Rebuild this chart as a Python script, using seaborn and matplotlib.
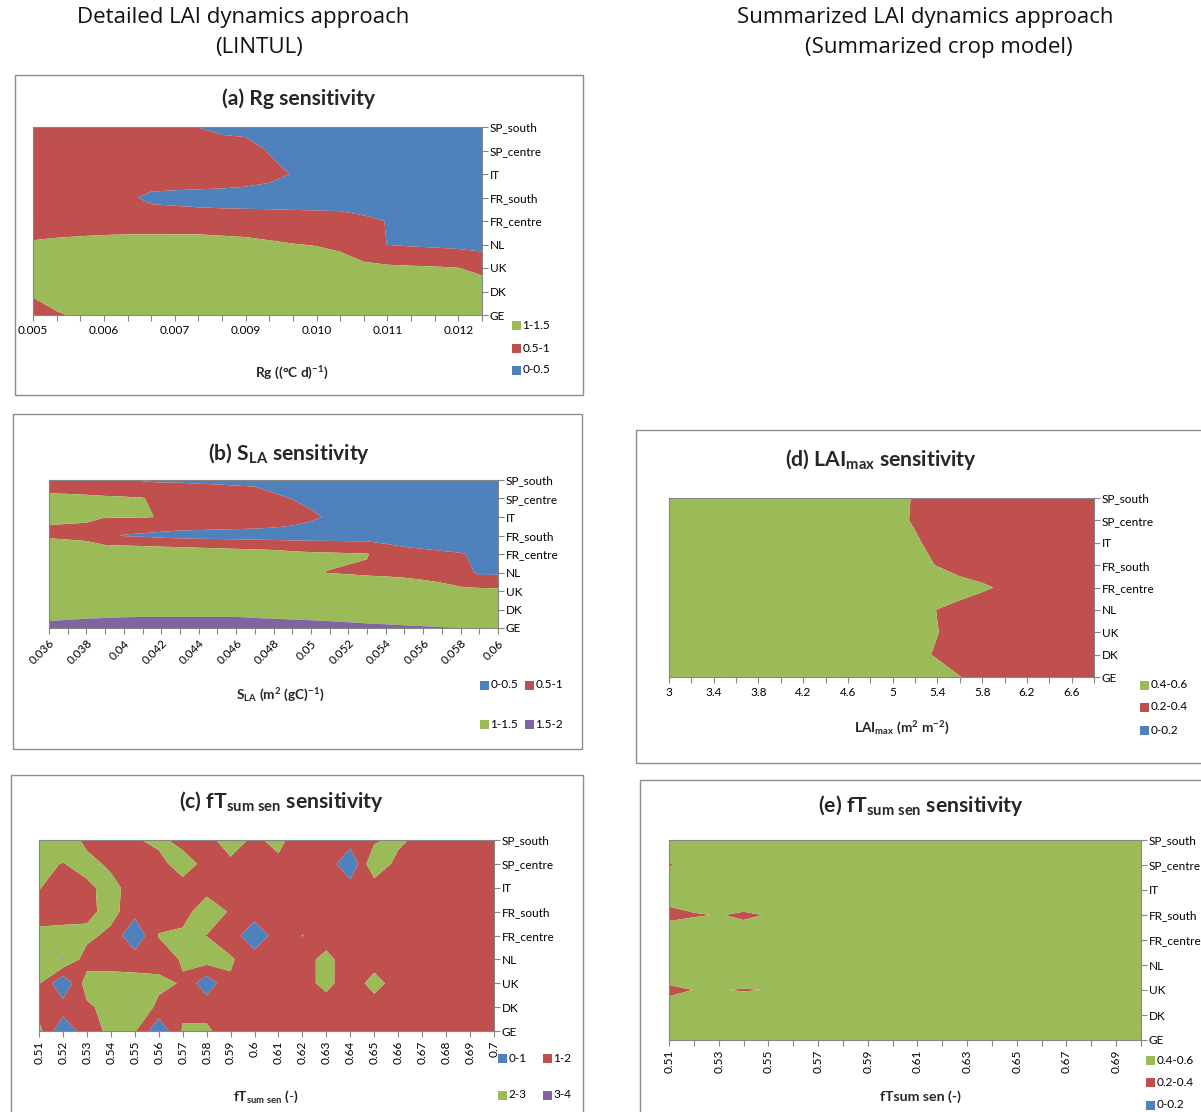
import numpy as np
import matplotlib
matplotlib.use("Agg")
import matplotlib.pyplot as plt
from matplotlib.patches import Rectangle
import seaborn as sns

# ---------------- data ----------------
regions = ["GE", "DK", "UK", "NL", "FR_centre", "FR_south", "IT", "SP_centre", "SP_south"]

# (a) Rg sensitivity  (rows GE -> SP_south)
rg_x = [0.005, 0.0054, 0.0058, 0.0062, 0.0066, 0.0070, 0.0074, 0.0078, 0.0082, 0.0086,
        0.0090, 0.0094, 0.0098, 0.0102, 0.0106, 0.0110, 0.0114, 0.0118, 0.0122, 0.0126]
rg_grid = [
    [0.85, 0.96, 1.06, 1.15, 1.20, 1.20, 1.21, 1.22, 1.22, 1.22, 1.21, 1.20, 1.20, 1.20, 1.19, 1.19, 1.18, 1.18, 1.18, 1.17],
    [1.053, 1.20, 1.25, 1.30, 1.30, 1.31, 1.31, 1.31, 1.30, 1.30, 1.30, 1.29, 1.29, 1.28, 1.28, 1.27, 1.26, 1.25, 1.24, 1.22],
    [1.30, 1.30, 1.32, 1.33, 1.33, 1.33, 1.33, 1.33, 1.32, 1.32, 1.31, 1.30, 1.27, 1.22, 1.09, 1.083, 1.06, 1.04, 1.006, 0.90],
    [1.044, 1.08, 1.12, 1.17, 1.21, 1.24, 1.21, 1.22, 1.18, 1.14, 1.066, 1.013, 0.98, 0.90, 0.75, 0.49, 0.45, 0.42, 0.38, 0.33],
    [0.80, 0.80, 0.78, 0.75, 0.72, 0.68, 0.72, 0.71, 0.70, 0.695, 0.70, 0.68, 0.66, 0.645, 0.567, 0.49, 0.40, 0.38, 0.36, 0.35],
    [0.70, 0.70, 0.68, 0.62, 0.55, 0.43, 0.38, 0.35, 0.33, 0.32, 0.30, 0.30, 0.30, 0.30, 0.29, 0.29, 0.28, 0.28, 0.27, 0.27],
    [0.80, 0.80, 0.80, 0.78, 0.76, 0.71, 0.77, 0.78, 0.77, 0.71, 0.62, 0.48, 0.35, 0.33, 0.32, 0.30, 0.30, 0.29, 0.29, 0.28],
    [0.82, 0.82, 0.82, 0.82, 0.82, 0.82, 0.82, 0.82, 0.70, 0.70, 0.47, 0.38, 0.30, 0.30, 0.29, 0.29, 0.28, 0.28, 0.27, 0.27],
    [0.75, 0.75, 0.74, 0.72, 0.70, 0.66, 0.60, 0.49, 0.40, 0.35, 0.30, 0.30, 0.30, 0.29, 0.29, 0.28, 0.28, 0.27, 0.27, 0.26],
]
rg_levels = [0, 0.5, 1.0, 1.5]

# (b) SLA sensitivity
sla_x = [0.036, 0.037, 0.038, 0.039, 0.040, 0.041, 0.042, 0.043, 0.044, 0.045, 0.046, 0.047, 0.048,
         0.049, 0.050, 0.051, 0.052, 0.053, 0.054, 0.055, 0.056, 0.057, 0.058, 0.059, 0.060]
sla_grid = [
    [1.62, 1.66, 1.70, 1.74, 1.776, 1.80, 1.80, 1.80, 1.80, 1.80, 1.80, 1.74, 1.70, 1.67, 1.645, 1.617, 1.59, 1.567, 1.55, 1.535, 1.522, 1.51, 1.505, 1.45, 1.42],
    [1.30, 1.30, 1.30, 1.30, 1.30, 1.30, 1.30, 1.30, 1.30, 1.30, 1.30, 1.30, 1.30, 1.30, 1.30, 1.30, 1.30, 1.30, 1.30, 1.30, 1.30, 1.30, 1.30, 1.29, 1.29],
    [1.30, 1.30, 1.30, 1.30, 1.30, 1.30, 1.30, 1.30, 1.30, 1.30, 1.30, 1.30, 1.30, 1.30, 1.30, 1.30, 1.28, 1.25, 1.22, 1.18, 1.12, 1.08, 1.075, 1.12, 1.094],
    [1.25, 1.25, 1.26, 1.27, 1.28, 1.28, 1.27, 1.26, 1.25, 1.23, 1.20, 1.17, 1.10, 1.05, 1.02, 0.99, 0.97, 0.95, 0.94, 0.93, 0.92, 0.90, 0.75, 0.40, 0.42],
    [1.397, 1.355, 1.35, 1.384, 1.45, 1.43, 1.41, 1.39, 1.35, 1.31, 1.27, 1.237, 1.20, 1.13, 1.08, 1.06, 1.04, 1.02, 0.806, 0.653, 0.597, 0.55, 0.519, 0.45, 0.42],
    [0.93, 0.90, 0.85, 0.60, 0.47, 0.43, 0.38, 0.333, 0.32, 0.31, 0.30, 0.29, 0.278, 0.27, 0.27, 0.27, 0.26, 0.26, 0.25, 0.25, 0.25, 0.25, 0.25, 0.25, 0.25],
    [1.053, 1.059, 1.067, 1.01, 1.02, 1.03, 0.98, 0.95, 0.93, 0.90, 0.88, 0.85, 0.80, 0.70, 0.57, 0.45, 0.35, 0.30, 0.30, 0.30, 0.29, 0.29, 0.28, 0.28, 0.28],
    [1.097, 1.083, 1.07, 1.057, 1.05, 1.03, 0.80, 0.85, 0.78, 0.75, 0.73, 0.77, 0.586, 0.49, 0.40, 0.35, 0.30, 0.30, 0.30, 0.29, 0.29, 0.29, 0.28, 0.28, 0.28],
    [0.75, 0.75, 0.72, 0.65, 0.55, 0.46, 0.45, 0.44, 0.43, 0.42, 0.40, 0.35, 0.30, 0.30, 0.30, 0.29, 0.29, 0.28, 0.28, 0.28, 0.27, 0.27, 0.27, 0.26, 0.26],
]
sla_levels = [0, 0.5, 1.0, 1.5, 2.0]

# (c) fTsum sen sensitivity (LINTUL)
fts_x = [0.51, 0.52, 0.53, 0.54, 0.55, 0.56, 0.57, 0.58, 0.59, 0.60,
         0.61, 0.62, 0.63, 0.64, 0.65, 0.66, 0.67, 0.68, 0.69, 0.70]
fts_grid = [
    [2.30, 0.20, 1.60, 2.20, 2.10, 0.20, 2.10, 2.15, 1.50, 1.45, 1.50, 1.50, 1.50, 1.50, 1.50, 1.50, 1.50, 1.50, 1.50, 1.50],
    [1.50, 1.50, 1.80, 2.40, 3.02, 1.70, 1.80, 1.70, 1.50, 1.50, 1.50, 1.50, 1.50, 1.50, 1.50, 1.50, 1.50, 1.50, 1.50, 1.50],
    [2.10, 0.05, 2.50, 2.50, 2.40, 2.30, 1.90, 0.30, 1.90, 1.50, 1.50, 1.62, 2.30, 1.40, 2.40, 1.50, 1.50, 1.50, 1.50, 1.50],
    [2.40, 3.05, 1.50, 1.50, 1.50, 1.50, 2.10, 2.50, 2.10, 1.50, 1.50, 1.62, 2.30, 1.40, 1.50, 1.50, 1.50, 1.50, 1.50, 1.50],
    [2.30, 2.40, 2.30, 1.70, 0.20, 2.05, 2.20, 1.98, 1.50, 0.30, 1.50, 2.02, 1.50, 1.50, 1.50, 1.50, 1.50, 1.50, 1.50, 1.50],
    [1.50, 1.50, 1.70, 2.40, 1.30, 1.50, 1.60, 2.60, 1.90, 1.50, 1.50, 1.50, 1.50, 1.50, 1.50, 1.50, 1.50, 1.50, 1.50, 1.50],
    [2.05, 1.50, 1.70, 2.50, 1.30, 1.50, 1.50, 1.65, 1.50, 1.50, 1.50, 1.50, 1.50, 1.50, 1.37, 1.50, 1.50, 1.50, 1.50, 1.50],
    [2.30, 1.95, 2.50, 1.70, 1.50, 1.60, 2.60, 1.60, 1.87, 1.50, 1.84, 1.50, 1.70, 0.05, 2.95, 1.59, 1.55, 1.50, 1.50, 1.50],
    [2.40, 3.02, 1.60, 1.50, 1.87, 2.30, 1.55, 1.80, 2.30, 1.87, 2.20, 1.53, 1.50, 1.50, 1.80, 2.30, 1.55, 1.50, 1.50, 1.50],
]
fts_levels = [0, 1, 2, 3, 4]

# (d) LAImax sensitivity (summarized model)
lai_x = [3.0, 3.2, 3.4, 3.6, 3.8, 4.0, 4.2, 4.4, 4.6, 4.8,
         5.0, 5.2, 5.4, 5.6, 5.8, 6.0, 6.2, 6.4, 6.6, 6.8]
lai_grid = [
    [0.59, 0.575, 0.56, 0.55, 0.53, 0.52, 0.50, 0.49, 0.475, 0.46, 0.445, 0.43, 0.416, 0.401, 0.385, 0.37, 0.355, 0.34, 0.325, 0.31],
    [0.575, 0.56, 0.55, 0.53, 0.52, 0.50, 0.49, 0.47, 0.455, 0.44, 0.425, 0.41, 0.396, 0.38, 0.365, 0.35, 0.335, 0.32, 0.305, 0.29],
    [0.58, 0.57, 0.55, 0.54, 0.52, 0.51, 0.49, 0.48, 0.46, 0.445, 0.43, 0.416, 0.401, 0.386, 0.37, 0.355, 0.34, 0.325, 0.31, 0.295],
    [0.58, 0.57, 0.55, 0.54, 0.52, 0.51, 0.49, 0.48, 0.46, 0.445, 0.43, 0.415, 0.399, 0.385, 0.37, 0.355, 0.34, 0.325, 0.31, 0.295],
    [0.59, 0.58, 0.56, 0.55, 0.54, 0.52, 0.51, 0.50, 0.49, 0.47, 0.46, 0.45, 0.435, 0.42, 0.408, 0.392, 0.38, 0.365, 0.35, 0.34],
    [0.58, 0.57, 0.55, 0.54, 0.52, 0.51, 0.49, 0.48, 0.46, 0.445, 0.43, 0.414, 0.398, 0.38, 0.37, 0.35, 0.34, 0.32, 0.31, 0.29],
    [0.57, 0.56, 0.54, 0.53, 0.51, 0.50, 0.48, 0.47, 0.45, 0.44, 0.42, 0.405, 0.388, 0.37, 0.36, 0.34, 0.33, 0.31, 0.30, 0.28],
    [0.56, 0.55, 0.53, 0.52, 0.50, 0.49, 0.47, 0.46, 0.44, 0.43, 0.411, 0.396, 0.38, 0.37, 0.35, 0.34, 0.32, 0.31, 0.29, 0.28],
    [0.56, 0.55, 0.53, 0.52, 0.50, 0.49, 0.47, 0.46, 0.44, 0.43, 0.412, 0.397, 0.38, 0.37, 0.35, 0.34, 0.32, 0.31, 0.29, 0.28],
]
lai_levels = [0, 0.2, 0.4, 0.6]

# (e) fTsum sen sensitivity (summarized model)
fts2_x = [0.51, 0.52, 0.53, 0.54, 0.55, 0.56, 0.57, 0.58, 0.59, 0.60,
          0.61, 0.62, 0.63, 0.64, 0.65, 0.66, 0.67, 0.68, 0.69, 0.70]
fts2_grid = [
    [0.47, 0.48, 0.49, 0.50, 0.50, 0.51, 0.51, 0.52, 0.52, 0.52, 0.53, 0.53, 0.53, 0.54, 0.54, 0.54, 0.54, 0.55, 0.55, 0.55],
    [0.46, 0.47, 0.45, 0.45, 0.46, 0.48, 0.49, 0.50, 0.50, 0.51, 0.51, 0.52, 0.52, 0.52, 0.53, 0.53, 0.53, 0.54, 0.54, 0.54],
    [0.38, 0.401, 0.402, 0.397, 0.401, 0.42, 0.44, 0.46, 0.47, 0.48, 0.49, 0.50, 0.50, 0.51, 0.51, 0.52, 0.52, 0.52, 0.53, 0.53],
    [0.48, 0.47, 0.46, 0.45, 0.46, 0.47, 0.48, 0.49, 0.50, 0.50, 0.51, 0.51, 0.52, 0.52, 0.52, 0.53, 0.53, 0.53, 0.54, 0.54],
    [0.527, 0.50, 0.47, 0.46, 0.47, 0.48, 0.49, 0.50, 0.50, 0.51, 0.51, 0.52, 0.52, 0.52, 0.53, 0.53, 0.53, 0.54, 0.54, 0.54],
    [0.36, 0.39, 0.405, 0.385, 0.405, 0.43, 0.45, 0.47, 0.48, 0.49, 0.50, 0.50, 0.51, 0.51, 0.52, 0.52, 0.52, 0.53, 0.53, 0.53],
    [0.48, 0.50, 0.49, 0.50, 0.49, 0.50, 0.50, 0.51, 0.51, 0.52, 0.52, 0.52, 0.53, 0.53, 0.53, 0.54, 0.54, 0.54, 0.55, 0.55],
    [0.395, 0.42, 0.46, 0.48, 0.49, 0.50, 0.50, 0.51, 0.51, 0.52, 0.52, 0.53, 0.53, 0.53, 0.54, 0.54, 0.54, 0.55, 0.55, 0.55],
    [0.44, 0.45, 0.46, 0.47, 0.48, 0.49, 0.50, 0.50, 0.51, 0.51, 0.52, 0.52, 0.53, 0.53, 0.53, 0.54, 0.54, 0.54, 0.55, 0.55],
]
fts2_levels = [0, 0.2, 0.4, 0.6]

# ---------------- style ----------------
BLUE, RED, GREEN, PURPLE = "#4F81BD", "#C0504D", "#9BBB59", "#8064A2"
FRAME = "#8c8c8c"
AXC = "#868686"
TXT = "#000000"

sns.set_theme(style="white")
plt.rcParams["font.family"] = ["Lato", "DejaVu Sans"]
plt.rcParams["mathtext.fontset"] = "custom"
plt.rcParams["mathtext.rm"] = "Lato"
plt.rcParams["mathtext.it"] = "Lato:italic"
plt.rcParams["mathtext.bf"] = "Lato:bold"

W, H = 1201, 1112
fig = plt.figure(figsize=(W / 100, H / 100), dpi=100)
fig.patch.set_facecolor("white")

TICK_FS = 8.5
TITLE_FS = 15.2
XLAB_FS = 9.8


def fx(x):
    return x / W


def fy(y):
    return 1 - y / H


def add_frame(x0, y0, x1, y1):
    fig.add_artist(Rectangle((fx(x0), fy(y1)), (x1 - x0) / W, (y1 - y0) / H,
                             transform=fig.transFigure, fill=False,
                             edgecolor=FRAME, lw=1.0))


def legend_item(x, y, color, label):
    s = 9
    fig.add_artist(Rectangle((fx(x), fy(y + s / 2)), s / W, s / H,
                             transform=fig.transFigure, facecolor=color,
                             edgecolor="none"))
    fig.text(fx(x + s + 1.5), fy(y), label, ha="left", va="center",
             fontsize=TICK_FS, color=TXT)


def fmt_general(dec):
    def f(v):
        s = ("%." + str(dec) + "f") % v
        if "." in s:
            s = s.rstrip("0").rstrip(".")
        return s
    return f


def panel(px, xvals, grid, levels, colors, every, fmt, rotation):
    x0, y0, x1, y1 = px
    ax = fig.add_axes([fx(x0), fy(y1), (x1 - x0) / W, (y1 - y0) / H])
    n = len(xvals)
    Z = np.array(grid, dtype=float)
    ax.contourf(np.arange(n), np.arange(len(regions)), Z, levels=levels,
                colors=colors, antialiased=True)
    ax.set_xlim(0, n - 1)
    ax.set_ylim(0, len(regions) - 1)
    ax.set_xticks(np.arange(n))
    ax.set_xticklabels([fmt(v) if i % every == 0 else "" for i, v in enumerate(xvals)])
    ax.yaxis.tick_right()
    ax.set_yticks(np.arange(len(regions)))
    ax.set_yticklabels(regions)
    ax.tick_params(axis="x", which="both", bottom=True, top=False, direction="out",
                   length=4, width=0.8, color=AXC, pad=3, labelsize=TICK_FS,
                   labelcolor=TXT)
    ax.tick_params(axis="y", which="both", left=False, right=True, direction="out",
                   length=4, width=0.8, color=AXC, pad=1.5, labelsize=TICK_FS,
                   labelcolor=TXT)
    for sp in ax.spines.values():
        sp.set_visible(True)
        sp.set_color(AXC)
        sp.set_linewidth(0.8)
    for lab in ax.get_xticklabels():
        if rotation == 45:
            lab.set_rotation(45)
            lab.set_ha("right")
            lab.set_va("top")
            lab.set_rotation_mode("anchor")
        elif rotation == 90:
            lab.set_rotation(90)
            lab.set_ha("center")
            lab.set_va("top")
    ax.grid(False)
    return ax


# ---------------- column headings ----------------
HEAD = dict(fontsize=16, family=["Open Sans", "DejaVu Sans"], color="#111111",
            ha="center", va="center")
fig.text(fx(243), fy(17), "Detailed LAI dynamics approach", **HEAD)
fig.text(fx(259), fy(48), "(LINTUL)", **HEAD)
fig.text(fx(925), fy(17), "Summarized LAI dynamics approach", **HEAD)
fig.text(fx(939), fy(48), "(Summarized crop model)", **HEAD)

# ---------------- frames ----------------
add_frame(15, 75, 583, 395)
add_frame(13, 414, 582, 749)
add_frame(11, 775, 583, 1115)
add_frame(636, 430, 1204, 763)
add_frame(640, 780, 1204, 1115)

# ---------------- panel (a) ----------------
panel((33, 127, 482, 315), rg_x, rg_grid, rg_levels, [BLUE, RED, GREEN], 3,
      lambda v: "%.3f" % v, 0)
fig.text(fx(298), fy(99), "(a) Rg sensitivity", ha="center", va="center",
         fontsize=TITLE_FS, fontweight="bold")
fig.text(fx(292), fy(373), r"$\mathbf{Rg\ ((\degree C\ d)^{-1})}$", ha="center",
         va="center", fontsize=XLAB_FS)
legend_item(512, 325, GREEN, "1-1.5")
legend_item(512, 348, RED, "0.5-1")
legend_item(512, 370, BLUE, "0-0.5")

# ---------------- panel (b) ----------------
panel((49, 480, 498, 628), sla_x, sla_grid, sla_levels, [BLUE, RED, GREEN, PURPLE], 2,
      fmt_general(3), 45)
fig.text(fx(289), fy(454), r"(b) $\mathbf{S_{LA}}$ sensitivity", ha="center",
         va="center", fontsize=TITLE_FS, fontweight="bold")
fig.text(fx(280), fy(695), r"$\mathbf{S_{LA}\ (m^{2}\ (gC)^{-1})}$", ha="center",
         va="center", fontsize=XLAB_FS)
legend_item(480, 685, BLUE, "0-0.5")
legend_item(525, 685, RED, "0.5-1")
legend_item(480, 724, GREEN, "1-1.5")
legend_item(525, 724, PURPLE, "1.5-2")

# ---------------- panel (c) ----------------
panel((39, 840, 494, 1031), fts_x, fts_grid, fts_levels, [BLUE, RED, GREEN, PURPLE], 1,
      fmt_general(2), 90)
fig.text(fx(281), fy(802), r"(c) $\mathbf{fT_{sum\ sen}}$ sensitivity", ha="center",
         va="center", fontsize=TITLE_FS, fontweight="bold")
fig.text(fx(266), fy(1097), r"$\mathbf{fT_{sum\ sen}\ (\text{-})}$", ha="center",
         va="center", fontsize=XLAB_FS)
legend_item(498, 1058, BLUE, "0-1")
legend_item(543, 1058, RED, "1-2")
legend_item(498, 1095, GREEN, "2-3")
legend_item(543, 1095, PURPLE, "3-4")

# ---------------- panel (d) ----------------
panel((669, 498, 1094, 677), lai_x, lai_grid, lai_levels, [BLUE, RED, GREEN], 2,
      fmt_general(1), 0)
fig.text(fx(881), fy(459), r"(d) $\mathbf{LAI_{max}}$ sensitivity", ha="center",
         va="center", fontsize=TITLE_FS, fontweight="bold")
fig.text(fx(902), fy(728), r"$\mathbf{LAI_{max}\ (m^{2}\ m^{-2})}$", ha="center",
         va="center", fontsize=XLAB_FS)
legend_item(1140, 685, GREEN, "0.4-0.6")
legend_item(1140, 707, RED, "0.2-0.4")
legend_item(1140, 730, BLUE, "0-0.2")

# ---------------- panel (e) ----------------
panel((669, 840, 1141, 1040), fts2_x, fts2_grid, fts2_levels, [BLUE, RED, GREEN], 2,
      fmt_general(2), 90)
fig.text(fx(921), fy(805), r"(e) $\mathbf{fT_{sum\ sen}}$ sensitivity", ha="center",
         va="center", fontsize=TITLE_FS, fontweight="bold")
fig.text(fx(920), fy(1097), "fTsum sen (-)", ha="center", va="center",
         fontsize=XLAB_FS + 0.4, fontweight="bold")
legend_item(1146, 1060, GREEN, "0.4-0.6")
legend_item(1146, 1082, RED, "0.2-0.4")
legend_item(1146, 1105, BLUE, "0-0.2")

fig.savefig("out.png", dpi=100, facecolor="white")
